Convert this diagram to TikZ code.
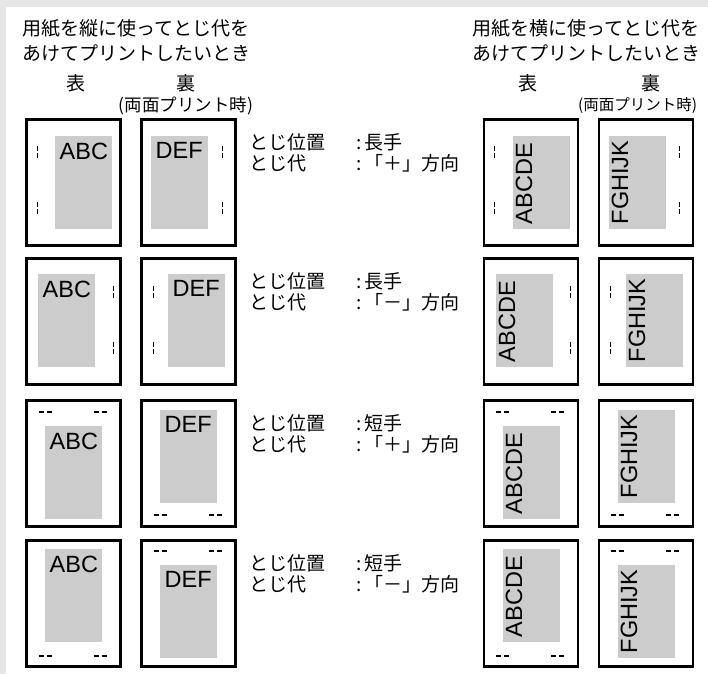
\documentclass[tikz,border=0pt]{standalone}
\usepackage{fontspec}
\setmainfont{Liberation Sans}
\newfontfamily\jpfont{Noto Sans CJK JP}
\definecolor{bggray}{HTML}{E6E6E6}
\definecolor{areagray}{HTML}{CCCCCC}
\tikzset{
  sheet/.style={draw, line width=2.6pt, minimum width=94pt, minimum height=126pt,
    inner sep=0pt, outer sep=0pt, anchor=north west},
  printarea/.style={fill=areagray, minimum width=57pt, minimum height=93pt,
    inner sep=0pt, anchor=north west},
  pagetext/.style={inner sep=0pt, anchor=north west, font=\fontsize{23.5}{23.5}\selectfont},
  sidetext/.style={pagetext, rotate=90},
  gutterv/.style={line width=1pt, dash pattern=on 5pt off 2.5pt},
  gutterh/.style={line width=1.3pt, dash pattern=on 5pt off 3pt},
  jp/.style={inner sep=0pt, font=\jpfont\fontsize{19}{25}\selectfont},
  note/.style={jp, anchor=west}
}
\begin{document}
\begin{tikzpicture}[x=1pt, y=1pt]

  \useasboundingbox (0,0) rectangle (708,-674);
  \fill[bggray] (0,0) rectangle (708,-674);
  \fill[white] (6,-7) rectangle (708,-674);

  % --- titoli ---
  \node[jp, anchor=west, align=left] (titleL) at (22,-41)
    {用紙を縦に使ってとじ代を\\あけてプリントしたいとき};
  \node[jp, anchor=east, align=left] (titleR) at (701,-41)
    {用紙を横に使ってとじ代を\\あけてプリントしたいとき};

  % --- intestazioni colonne ---
  \node[jp] (omoteL) at (76,-83.5) {表};
  \node[jp] (uraL) at (186,-83.5) {裏};
  \node[jp, font=\jpfont\fontsize{17.5}{20}\selectfont] (ryomenL) at (186,-106) {(両面プリント時)};
  \node[jp] (omoteR) at (528,-83.5) {表};
  \node[jp] (uraR) at (651,-83.5) {裏};
  \node[jp, font=\jpfont\fontsize{15.5}{20}\selectfont] (ryomenR) at (637.5,-106) {(両面プリント時)};

  % --- riga 1: 長手, 「＋」 ---
  \node[sheet] (s1a) at (26.5,-119.5) {};
  \node[printarea] (g1a) at (55,-136) {};
  \node[pagetext] (t1a) at ([shift={(4.5,-6.5)}]g1a.north west) {ABC};
  \draw[gutterv] (37,-145.5) -- ++(0,-12.5) (37,-201.5) -- ++(0,-12.5);

  \node[sheet] (s1b) at (141.5,-119.5) {};
  \node[printarea] (g1b) at (151,-136) {};
  \node[pagetext] (t1b) at ([shift={(4.5,-6.5)}]g1b.north west) {DEF};
  \draw[gutterv] (222,-145.5) -- ++(0,-12.5) (222,-201.5) -- ++(0,-12.5);

  \node[sheet] (s1c) at (484,-119.5) {};
  \node[printarea] (g1c) at (512.5,-136) {};
  \node[sidetext] (t1c) at ([shift={(3,5)}]g1c.south west) {ABCDE};
  \draw[gutterv] (494.5,-145.5) -- ++(0,-12.5) (494.5,-201.5) -- ++(0,-12.5);

  \node[sheet] (s1d) at (599,-119.5) {};
  \node[printarea] (g1d) at (608.5,-136) {};
  \node[sidetext] (t1d) at ([shift={(3,5)}]g1d.south west) {FGHIJK};
  \draw[gutterv] (679.5,-145.5) -- ++(0,-12.5) (679.5,-201.5) -- ++(0,-12.5);

  \node[note] (n1a) at (249,-142) {とじ位置};
  \node[note] (n1b) at (356,-142) {:\,長手};
  \node[note] (n1c) at (249,-163) {とじ代};
  \node[note] (n1d) at (356,-163) {:\,「＋」方向};

  % --- riga 2: 長手, 「－」 ---
  \node[sheet] (s2a) at (26.5,-258.5) {};
  \node[printarea] (g2a) at (38,-274) {};
  \node[pagetext] (t2a) at ([shift={(4.5,-6.5)}]g2a.north west) {ABC};
  \draw[gutterv] (113,-285.5) -- ++(0,-12.5) (113,-341.5) -- ++(0,-12.5);

  \node[sheet] (s2b) at (141.5,-258.5) {};
  \node[printarea] (g2b) at (168,-274) {};
  \node[pagetext] (t2b) at ([shift={(4.5,-6.5)}]g2b.north west) {DEF};
  \draw[gutterv] (153,-285.5) -- ++(0,-12.5) (153,-341.5) -- ++(0,-12.5);

  \node[sheet] (s2c) at (484,-258.5) {};
  \node[printarea] (g2c) at (495.5,-274) {};
  \node[sidetext] (t2c) at ([shift={(3,5)}]g2c.south west) {ABCDE};
  \draw[gutterv] (570.5,-285.5) -- ++(0,-12.5) (570.5,-341.5) -- ++(0,-12.5);

  \node[sheet] (s2d) at (599,-258.5) {};
  \node[printarea] (g2d) at (625.5,-274) {};
  \node[sidetext] (t2d) at ([shift={(3,5)}]g2d.south west) {FGHIJK};
  \draw[gutterv] (610.5,-285.5) -- ++(0,-12.5) (610.5,-341.5) -- ++(0,-12.5);

  \node[note] (n2a) at (249,-281) {とじ位置};
  \node[note] (n2b) at (356,-281) {:\,長手};
  \node[note] (n2c) at (249,-302) {とじ代};
  \node[note] (n2d) at (356,-302) {:\,「－」方向};

  % --- riga 3: 短手, 「＋」 ---
  \node[sheet] (s3a) at (26.5,-400.5) {};
  \node[printarea] (g3a) at (45,-426) {};
  \node[pagetext] (t3a) at ([shift={(4.5,-6.5)}]g3a.north west) {ABC};
  \draw[gutterh] (38.5,-412) -- ++(13,0) (93.5,-412) -- ++(13,0);

  \node[sheet] (s3b) at (141.5,-400.5) {};
  \node[printarea] (g3b) at (160,-410) {};
  \node[pagetext] (t3b) at ([shift={(4.5,-6.5)}]g3b.north west) {DEF};
  \draw[gutterh] (153.5,-515) -- ++(13,0) (208.5,-515) -- ++(13,0);

  \node[sheet] (s3c) at (484,-400.5) {};
  \node[printarea] (g3c) at (502.5,-426) {};
  \node[sidetext] (t3c) at ([shift={(3,5)}]g3c.south west) {ABCDE};
  \draw[gutterh] (496,-412) -- ++(13,0) (551,-412) -- ++(13,0);

  \node[sheet] (s3d) at (599,-400.5) {};
  \node[printarea] (g3d) at (617.5,-410) {};
  \node[sidetext] (t3d) at ([shift={(3,5)}]g3d.south west) {FGHIJK};
  \draw[gutterh] (611,-515) -- ++(13,0) (666,-515) -- ++(13,0);

  \node[note] (n3a) at (249,-423) {とじ位置};
  \node[note] (n3b) at (356,-423) {:\,短手};
  \node[note] (n3c) at (249,-444) {とじ代};
  \node[note] (n3d) at (356,-444) {:\,「＋」方向};

  % --- riga 4: 短手, 「－」 ---
  \node[sheet] (s4a) at (26.5,-540.5) {};
  \node[printarea] (g4a) at (45,-549) {};
  \node[pagetext] (t4a) at ([shift={(4.5,-6.5)}]g4a.north west) {ABC};
  \draw[gutterh] (38.5,-656) -- ++(13,0) (93.5,-656) -- ++(13,0);

  \node[sheet] (s4b) at (141.5,-540.5) {};
  \node[printarea] (g4b) at (160,-565) {};
  \node[pagetext] (t4b) at ([shift={(4.5,-6.5)}]g4b.north west) {DEF};
  \draw[gutterh] (153.5,-551) -- ++(13,0) (208.5,-551) -- ++(13,0);

  \node[sheet] (s4c) at (484,-540.5) {};
  \node[printarea] (g4c) at (502.5,-549) {};
  \node[sidetext] (t4c) at ([shift={(3,5)}]g4c.south west) {ABCDE};
  \draw[gutterh] (496,-656) -- ++(13,0) (551,-656) -- ++(13,0);

  \node[sheet] (s4d) at (599,-540.5) {};
  \node[printarea] (g4d) at (617.5,-565) {};
  \node[sidetext] (t4d) at ([shift={(3,5)}]g4d.south west) {FGHIJK};
  \draw[gutterh] (611,-551) -- ++(13,0) (666,-551) -- ++(13,0);

  \node[note] (n4a) at (249,-563) {とじ位置};
  \node[note] (n4b) at (356,-563) {:\,短手};
  \node[note] (n4c) at (249,-584) {とじ代};
  \node[note] (n4d) at (356,-584) {:\,「－」方向};

\end{tikzpicture}
\end{document}
